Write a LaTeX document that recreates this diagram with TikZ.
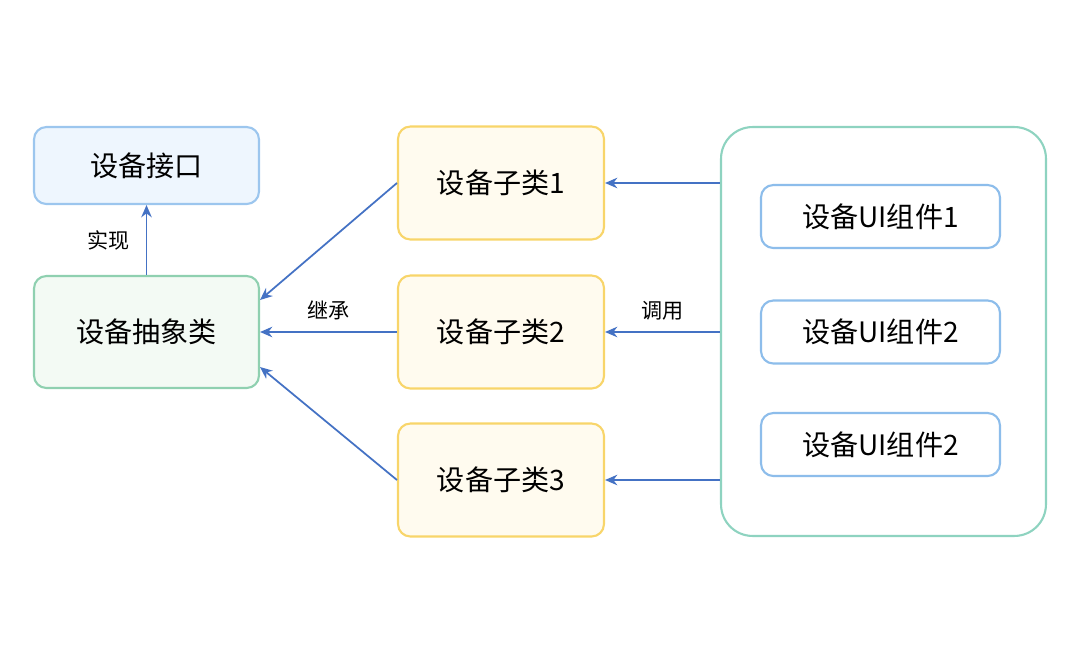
\documentclass[tikz,border=0pt]{standalone}
\usepackage{fontspec}
\setmainfont{Noto Sans CJK SC}
\usetikzlibrary{arrows.meta}
\definecolor{arr}{HTML}{4472C4}
\definecolor{ifill}{HTML}{EEF6FE}\definecolor{iline}{HTML}{9CC6EE}
\definecolor{afill}{HTML}{F3FAF4}\definecolor{aline}{HTML}{8FD0B0}
\definecolor{sfill}{HTML}{FFFBEF}\definecolor{sline}{HTML}{F8D56A}
\definecolor{cline}{HTML}{8ED3C0}\definecolor{uline}{HTML}{8DBDEB}
\begin{document}
\begin{tikzpicture}[x=0.02cm,y=-0.02cm,
 box/.style={draw,line width=1.2pt,rounded corners=7pt,inner sep=0pt,font=\fontsize{16}{18}\selectfont},
 iface/.style={box,draw=iline,fill=ifill,minimum width=4.5cm,minimum height=1.54cm},
 abst/.style={box,draw=aline,fill=afill,minimum width=4.5cm,minimum height=2.24cm},
 sub/.style={box,draw=sline,fill=sfill,minimum width=4.12cm,minimum height=2.26cm},
 cont/.style={box,draw=cline,fill=white,rounded corners=18pt,minimum width=6.5cm,minimum height=8.18cm},
 ui/.style={box,draw=uline,fill=white,minimum width=4.78cm,minimum height=1.26cm},
 lab/.style={font=\fontsize{12}{14}\selectfont},
 ar/.style={draw=arr,line width=1pt,-{Stealth[length=7pt,width=6pt]}}]
\useasboundingbox (0,0) rectangle (1080,663);
\node[iface] (if) at (146.5,165.5) {设备接口};
\node[abst] (ab) at (146.5,332) {设备抽象类};
\node[sub] (s1) at (501,183) {设备子类1};
\node[sub] (s2) at (501,332) {设备子类2};
\node[sub] (s3) at (501,480) {设备子类3};
\node[cont] (c) at (883.5,331.5) {};
\node[ui] (u1) at (880.5,216.5) {设备UI组件1};
\node[ui] (u2) at (880.5,332) {设备UI组件2};
\node[ui] (u3) at (880.5,444.5) {设备UI组件2};
\draw[ar] (ab.north) -- (if.south) node[midway,left=6pt,lab] {实现};
\draw[ar] (s1.west) -- (ab.east |- 0,300);
\draw[ar] (s2.west) -- (ab.east) node[midway,above=3pt,lab] {继承};
\draw[ar] (s3.west) -- (ab.east |- 0,367);
\draw[ar] (c.west |- s1) -- (s1.east);
\draw[ar] (c.west |- s2) -- (s2.east) node[midway,above=3pt,lab] {调用};
\draw[ar] (c.west |- s3) -- (s3.east);
\end{tikzpicture}
\end{document}
